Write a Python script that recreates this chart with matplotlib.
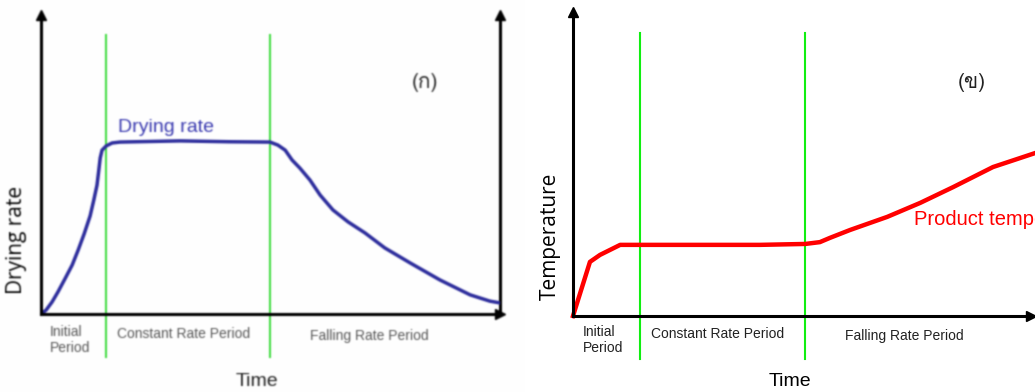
import matplotlib
matplotlib.use("Agg")
import numpy as np
import matplotlib.pyplot as plt
from matplotlib import font_manager
from matplotlib.ft2font import FT2Font

W, H = 1035, 392

# drying rate curve (time and rate on a 0-100 scale)
rate_t = [0, 1.1, 2.4, 3.7, 5.2, 6.8, 8.1, 9.4, 10.7, 11.5, 12.2, 12.6,
          12.9, 13.3, 14.2, 15.5, 17.2, 30.3, 41.2, 49.9, 51.6, 53.2,
          54.7, 56.4, 58.6, 60.8, 63.6, 66.9, 70.6, 74.9, 80.4, 86.9,
          93.5, 97.8, 100]
rate_v = [0, 1.3, 4.0, 7.4, 11.7, 16.4, 21.4, 26.8, 32.8, 38.1, 43.1, 48.2,
          52.2, 54.8, 56.2, 57.2, 57.5, 57.9, 57.6, 57.5, 56.5, 54.8,
          51.5, 48.8, 44.8, 39.8, 34.8, 30.8, 27.1, 22.1, 17.1, 11.4,
          6.4, 4.3, 3.7]

# product temperature curve
temp_t = [0, 3.7, 5.9, 10.3, 14.6, 27.7, 40.8, 50.7, 53.9, 56.1, 60.5,
          68.6, 75.8, 83.0, 91.7, 100.9]
temp_v = [0, 17.8, 20.1, 23.4, 23.4, 23.4, 23.4, 23.7, 24.3, 25.7, 28.3,
          32.6, 37.2, 42.4, 49.0, 53.6]

# period boundaries on each time axis
bounds_a = [14.2, 49.9]
bounds_b = [14.6, 50.7]
period_names = ["Initial\nPeriod", "Constant Rate Period", "Falling Rate Period"]


def thai_font():
    for f in font_manager.fontManager.ttflist:
        try:
            cmap = FT2Font(f.fname).get_charmap()
        except Exception:
            continue
        if 0x0E01 in cmap and 0x0E02 in cmap:
            return f.name
    return "DejaVu Sans"


THAI = thai_font()


def px_rect(x0, y0, x1, y1):
    return [x0 / W, 1 - y1 / H, (x1 - x0) / W, (y1 - y0) / H]


def fx(x):
    return x / W


def fy(y):
    return 1 - y / H


def setup_axes(ax, right_spine=False):
    ax.set_xlim(0, 100)
    ax.set_ylim(0, 100)
    ax.set_xticks([])
    ax.set_yticks([])
    ax.patch.set_alpha(0)
    for side in ["top", "right"]:
        ax.spines[side].set_visible(False)
    for side in ["left", "bottom"]:
        ax.spines[side].set_linewidth(2.2)
        ax.spines[side].set_zorder(5)
    ax.plot([0], [1], marker="^", ms=7, color="k", transform=ax.transAxes,
            clip_on=False, zorder=6)
    ax.plot([1], [0], marker=">", ms=7, color="k", transform=ax.transAxes,
            clip_on=False, zorder=6)
    if right_spine:
        ax.spines["right"].set_visible(True)
        ax.spines["right"].set_linewidth(2.2)
        ax.plot([1], [1], marker="^", ms=7, color="k", transform=ax.transAxes,
                clip_on=False, zorder=6)


fig = plt.figure(figsize=(W / 100, H / 100), dpi=100)
fig.patch.set_facecolor("white")

# ---- (ก) drying rate ----
ax1 = fig.add_axes(px_rect(41, 15, 500, 314))
setup_axes(ax1, right_spine=True)
for b in bounds_a:
    ax1.axvline(b, ymin=-0.144, ymax=0.933, color="#45dc45", lw=1.5,
                clip_on=False, zorder=2)
ax1.plot(rate_t, rate_v, color="#2c2c9c", lw=2.5, solid_joinstyle="round",
         solid_capstyle="round", zorder=4)
ax1.text(16.7, 59.5, "Drying rate", color="#3a3ab0", fontsize=14,
         family="Liberation Sans", va="bottom", ha="left")

fig.text(fx(425), fy(83), "(ก)", family=[THAI, "DejaVu Sans"], fontsize=15,
         ha="center", va="center", color="#222222")
fig.text(fx(17), fy(240), "Drying rate", family="Open Sans", fontsize=15,
         rotation=90, ha="center", va="center", color="black")
fig.text(fx(257), fy(381), "Time", family="Liberation Sans", fontsize=14,
         ha="center", va="center", color="#222222")
fig.text(fx(50), fy(340), period_names[0], family="Liberation Sans",
         fontsize=10, ha="left", va="center", color="#555555", linespacing=1.2)
fig.text(fx(117), fy(334), period_names[1], family="Liberation Sans",
         fontsize=10, ha="left", va="center", color="#555555")
fig.text(fx(310), fy(336), period_names[2], family="Liberation Sans",
         fontsize=10, ha="left", va="center", color="#555555")

# ---- (ข) product temperature ----
ax2 = fig.add_axes(px_rect(573, 12, 1031, 316))
setup_axes(ax2)
for b in bounds_b:
    ax2.axvline(b, ymin=-0.141, ymax=0.931, color="#11ee11", lw=1.5,
                clip_on=False, zorder=2)
ax2.plot(temp_t, temp_v, color="#ff0000", lw=3.2, solid_joinstyle="round",
         clip_on=False, zorder=4)

fig.text(fx(914), fy(220), "Product temperature", family="Liberation Sans",
         fontsize=14.5, ha="left", va="center", color="#ff0000")
fig.text(fx(972), fy(83), "(ข)", family=[THAI, "DejaVu Sans"], fontsize=15,
         ha="center", va="center", color="#222222")
fig.text(fx(550), fy(236), "Temperature", family="Open Sans", fontsize=15,
         rotation=90, ha="center", va="center", color="black")
fig.text(fx(790), fy(382), "Time", family="Liberation Sans", fontsize=14,
         ha="center", va="center", color="black")
fig.text(fx(583), fy(340), period_names[0], family="Liberation Sans",
         fontsize=10, ha="left", va="center", color="#222222", linespacing=1.15)
fig.text(fx(651), fy(334), period_names[1], family="Liberation Sans",
         fontsize=10, ha="left", va="center", color="#222222")
fig.text(fx(845), fy(336), period_names[2], family="Liberation Sans",
         fontsize=10, ha="left", va="center", color="#222222")

# left panel is a low-res scan: soften it a little
fig.canvas.draw()
img = np.asarray(fig.canvas.buffer_rgba())[..., :3].astype(float) / 255
k = np.exp(-0.5 * (np.arange(-2, 3) / 0.8) ** 2)
k /= k.sum()
left = img[:, :525].copy()
for axis in (0, 1):
    pad = [(0, 0)] * 3
    pad[axis] = (2, 2)
    p = np.pad(left, pad, mode="edge")
    n = left.shape[axis]
    left = sum(w * np.take(p, range(i, i + n), axis=axis) for i, w in enumerate(k))
img[:, :525] = left
plt.imsave("out.png", np.clip(img, 0, 1))
